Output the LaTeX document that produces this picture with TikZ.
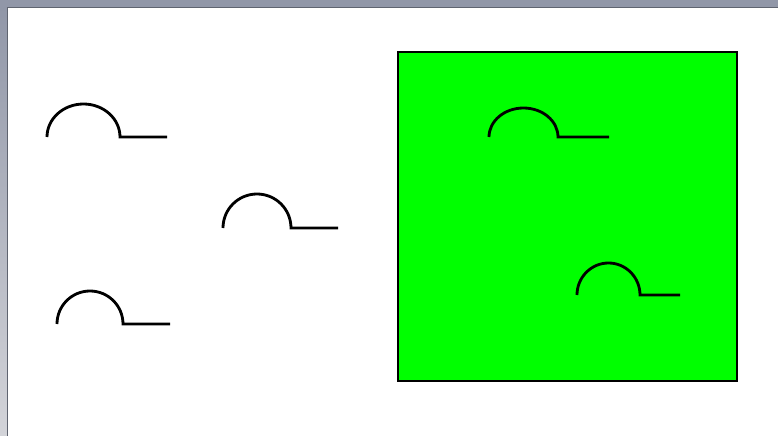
\documentclass[tikz,border=0pt]{standalone}
\usepackage{tikz}
\definecolor{Frame}{HTML}{9197A8}
\definecolor{FrameLow}{HTML}{D3D4D9}
\definecolor{Edge}{HTML}{5F6470}
\definecolor{Lime}{HTML}{00FF00}

\begin{document}
\begin{tikzpicture}[x=0.02cm,y=-0.02cm,
    bump/.style={line width=1.6pt,black,line cap=butt,line join=miter},
    panel/.style={fill=Lime,draw=black,line width=0.6pt}
  ]
    \useasboundingbox (0,0) rectangle (778,436);
    % window frame
    \fill[Frame] (0,0) rectangle (778,7);
    \shade[top color=Frame,bottom color=FrameLow] (0,7) rectangle (7,436);
    \fill[white] (7,7) rectangle (778,436);
    \draw[Edge,line width=0.5pt] (7,436) -- (7,7) -- (778,7);
    % green panel
    \draw[panel] (398,52) rectangle (737,381);
    % arcs with tails
    \foreach \x/\y/\w/\h/\e in {47/137/73/33/167,223/228/68/34/338,57/324/66/33/170,
                                 489/137/69/29/609,577/295/63/32/680}
      \draw[bump] (\x,\y) arc[start angle=180,end angle=360,x radius=\w/2,y radius=\h] -- (\e,\y);
\end{tikzpicture}
\end{document}
